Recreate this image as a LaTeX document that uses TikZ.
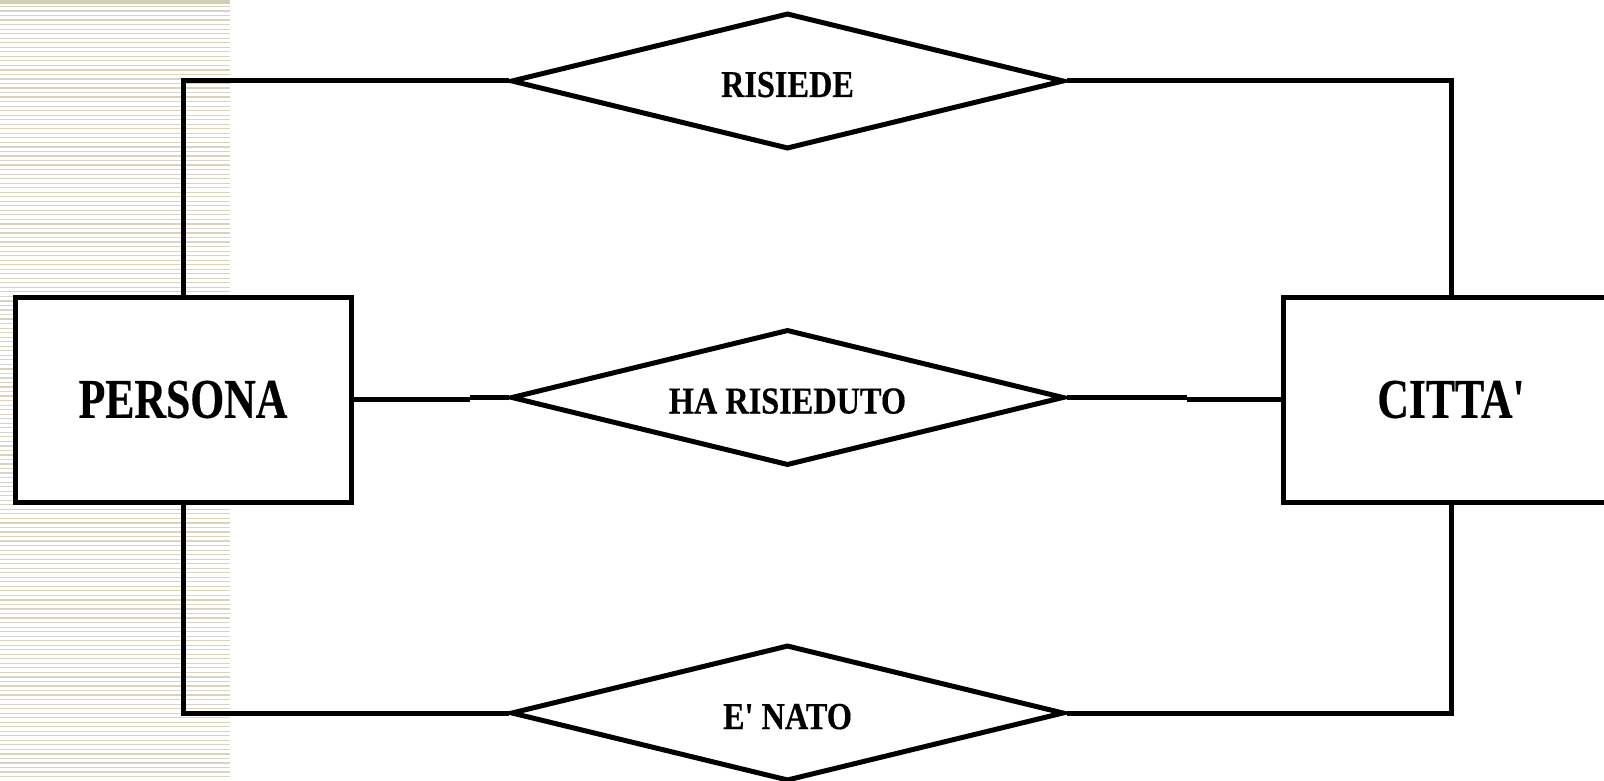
\documentclass[tikz,border=0pt]{standalone}
\usepackage{fontspec}
\usetikzlibrary{shapes.geometric}
\newfontfamily\erbig[FakeStretch=0.78, BoldFeatures={FakeBold=0.4}]{Liberation Serif}
\newfontfamily\ersmall[FakeStretch=0.85, BoldFeatures={FakeBold=0.4}]{Liberation Serif}
\definecolor{stripetan}{HTML}{DAD3B6}
\definecolor{stripegray}{HTML}{D4D4D0}
\tikzset{
  entity/.style={draw=black, line width=5pt, fill=white, rectangle, minimum width=336, minimum height=205, inner sep=0pt, font=\erbig\bfseries\fontsize{56}{60}\selectfont},
  relation/.style={draw=black, line width=5pt, fill=white, diamond, aspect=4, minimum width=553, minimum height=136, inner sep=0pt, text height=32pt, text depth=0pt, font=\ersmall\bfseries\fontsize{38}{42}\selectfont},
  link/.style={draw=black, line width=5pt, line join=miter}
}
\begin{document}
\begin{tikzpicture}[x=1pt,y=-1pt]
\clip (0,0) rectangle (1604,781);
\fill[white] (0,0) rectangle (1604,781);
% striped band on the left
\fill[stripetan!95!black!90] (0,0) rectangle (230,4.5);
\foreach \i in {0,...,170}{
  \pgfmathtruncatemacro\m{mod(\i,3)}
  \ifnum\m=1
    \draw[stripegray, line width=1.2pt] (0,6.5+4.53*\i) -- (230,6.5+4.53*\i);
  \else
    \draw[stripetan, line width=1.2pt] (0,6.5+4.53*\i) -- (230,6.5+4.53*\i);
  \fi
}
% entities
\node[entity] (persona) at (183,399.5) {PERSONA};
\node[entity] (citta) at (1451,399.5) {CITTA'};
% relations
\node[relation] (risiede) at (787.5,81) {RISIEDE};
\node[relation] (harisieduto) at (787.5,397.5) {HA RISIEDUTO};
\node[relation] (enato) at (787.5,713) {E' NATO};
% corner coordinates
\coordinate (c1) at (183,81);
\coordinate (c2) at (1451,81);
\coordinate (c3) at (183,713);
\coordinate (c4) at (1451,713);
\coordinate (jl) at (470,399.5);
\coordinate (jr) at (1187,399.5);
% connectors
\draw[link] (persona.north) -- (c1) -- (risiede.west);
\draw[link] (risiede.east) -- (c2) -- (citta.north);
\draw[link] (persona.south) -- (c3) -- (enato.west);
\draw[link] (enato.east) -- (c4) -- (citta.south);
\draw[link] (persona.east) -- (jl);
\draw[link] (jl |- harisieduto.west) -- (harisieduto.west);
\draw[link] (harisieduto.east) -- (jr |- harisieduto.east);
\draw[link] (jr) -- (citta.west);
\end{tikzpicture}
\end{document}
